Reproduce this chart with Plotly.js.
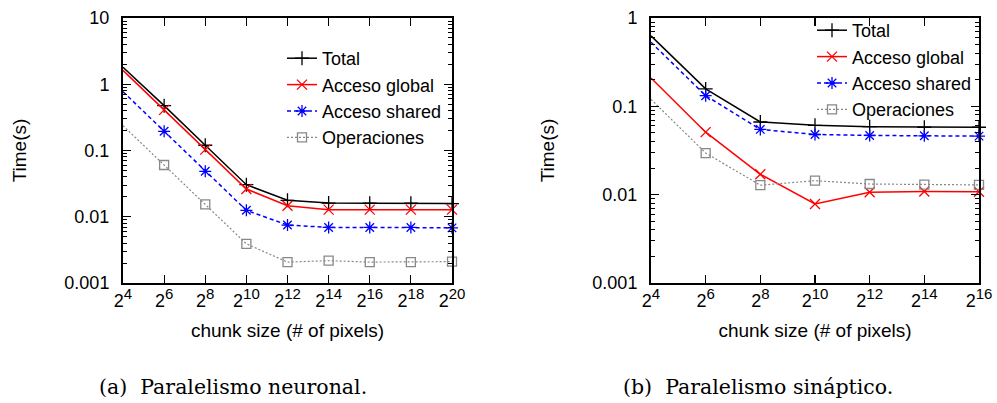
<!DOCTYPE html>
<html>
<head>
<meta charset="utf-8">
<script src="https://cdn.plot.ly/plotly-3.0.1.min.js"></script>
<style>
  html, body { margin: 0; padding: 0; background: #fff; }
  #chart { width: 997px; height: 403px; }
</style>
</head>
<body>
<div id="chart"></div>
<script>
// ---- Data: (a) Paralelismo neuronal ----
const expA = [4, 6, 8, 10, 12, 14, 16, 18, 20];
const totalA  = [1.8, 0.475, 0.12, 0.0305, 0.0177, 0.0161, 0.016, 0.016, 0.0158];
const globalA = [1.62, 0.41, 0.103, 0.0262, 0.0147, 0.0128, 0.0128, 0.0128, 0.0128];
const sharedA = [0.773, 0.195, 0.0485, 0.0125, 0.0075, 0.0069, 0.0069, 0.0069, 0.0068];
const operA   = [0.237, 0.0604, 0.0154, 0.0039, 0.00207, 0.00217, 0.00207, 0.00207, 0.0021];

// ---- Data: (b) Paralelismo sináptico ----
const expB = [4, 6, 8, 10, 12, 14, 16];
const totalB  = [0.627, 0.1575, 0.0665, 0.061, 0.0588, 0.058, 0.058];
const globalB = [0.209, 0.051, 0.017, 0.00784, 0.01067, 0.01086, 0.0108];
const sharedB = [0.531, 0.132, 0.0548, 0.048, 0.0468, 0.0464, 0.046];
const operB   = [0.12, 0.0296, 0.0128, 0.0144, 0.0132, 0.013, 0.0129];

const seriesNames = ["Total", "Acceso global", "Acceso shared", "Operaciones"];
const yTicksA = ["0.001", "0.01", "0.1", "1", "10"];
const yTicksB = ["0.001", "0.01", "0.1", "1"];
const xTitle = "chunk size (# of pixels)";
const yTitle = "Time(s)";
const captionA = "(a)  Paralelismo neuronal.";
const captionB = "(b)  Paralelismo sináptico.";

// ---- styles ----
const styles = [
  {color: "#000000", dash: "solid",   width: 1.5, symbol: "cross-thin-open", size: 10},
  {color: "#ff0000", dash: "solid",   width: 1.5, symbol: "x-thin-open", size: 10},
  {color: "#0000ff", dash: "4px,3px", width: 1.5, symbol: "asterisk-open", size: 10},
  {color: "#888888", dash: "2px,2px", width: 1.2, symbol: "square-open", size: 9}
];

const sizes = e => e.map(v => Math.pow(2, v));
function mk(xs, ys, i, xa, ya, leg) {
  const s = styles[i];
  return {
    x: sizes(xs), y: ys, name: seriesNames[i], type: "scatter", mode: "lines+markers",
    xaxis: xa, yaxis: ya, legend: leg, cliponaxis: false,
    line: {color: s.color, dash: s.dash, width: s.width},
    marker: {symbol: s.symbol, size: s.size, color: s.color, line: {color: s.color, width: 1.3}}
  };
}

const traces = [
  mk(expA, totalA, 0, "x", "y", "legend"),
  mk(expA, globalA, 1, "x", "y", "legend"),
  mk(expA, sharedA, 2, "x", "y", "legend"),
  mk(expA, operA, 3, "x", "y", "legend"),
  mk(expB, totalB, 0, "x2", "y2", "legend2"),
  mk(expB, globalB, 1, "x2", "y2", "legend2"),
  mk(expB, sharedB, 2, "x2", "y2", "legend2"),
  mk(expB, operB, 3, "x2", "y2", "legend2")
];

function minorVals(lo, hi) {
  const v = [];
  for (let d = lo; d < hi; d++) for (let k = 2; k <= 9; k++) v.push(k * Math.pow(10, d));
  return v;
}

const FAM = "Liberation Sans, Arial, sans-serif";
const font = {family: FAM, size: 19, color: "#000"};
const tickFont = {family: FAM, size: 18, color: "#000"};

function xAxis(exps, domain) {
  return {
    type: "log", domain: domain,
    range: [Math.log10(Math.pow(2, exps[0])), Math.log10(Math.pow(2, exps[exps.length - 1]))],
    tickmode: "array", tickvals: sizes(exps),
    ticktext: exps.map(e => "2<sup><span style=\"font-size:15px\">" + e + "</span></sup>"),
    ticks: "inside", ticklen: 8, tickwidth: 1.2, tickcolor: "#000",
    showline: true, linecolor: "#000", linewidth: 2, mirror: "allticks",
    showgrid: false, zeroline: false, tickfont: tickFont,
    title: {text: xTitle, font: font, standoff: 14}
  };
}
function yAxis(ticks, domain, anchor) {
  const lo = -3, hi = ticks.length - 4;
  return {
    type: "log", domain: domain, anchor: anchor, range: [lo, hi],
    tickmode: "array", tickvals: ticks.map(Number), ticktext: ticks,
    ticks: "inside", ticklen: 8, tickwidth: 1.2, tickcolor: "#000",
    minor: {tickmode: "array", tickvals: minorVals(lo, hi), ticks: "inside", ticklen: 4, tickwidth: 1, tickcolor: "#000", showgrid: false},
    showline: true, linecolor: "#000", linewidth: 2, mirror: "allticks",
    showgrid: false, zeroline: false, tickfont: tickFont, ticklabelstandoff: 8,
    title: {text: yTitle, font: font, standoff: 33}
  };
}

const yDom = [(403 - 283) / 403, (403 - 18) / 403];
const layout = {
  width: 997, height: 403,
  margin: {l: 0, r: 0, t: 0, b: 0},
  paper_bgcolor: "#fff", plot_bgcolor: "#fff",
  font: font,
  xaxis: Object.assign(xAxis(expA, [123 / 997, 452 / 997]), {anchor: "y"}),
  yaxis: yAxis(yTicksA, yDom, "x"),
  xaxis2: Object.assign(xAxis(expB, [651 / 997, 979 / 997]), {anchor: "y2"}),
  yaxis2: yAxis(yTicksB, yDom, "x2"),
  legend: {x: 447 / 997, xanchor: "right", y: 1 - 40 / 403, yanchor: "top",
           bgcolor: "rgba(0,0,0,0)", font: {family: FAM, size: 18}, tracegroupgap: 0},
  legend2: {x: 977 / 997, xanchor: "right", y: 1 - 12 / 403, yanchor: "top",
            bgcolor: "rgba(0,0,0,0)", font: {family: FAM, size: 18}, tracegroupgap: 0},
  annotations: [
    {text: captionA, xref: "paper", yref: "paper", x: 233 / 997, y: 16 / 403, xanchor: "center", yanchor: "middle",
     showarrow: false, font: {family: "DejaVu Serif, serif", size: 20.5, color: "#000"}},
    {text: captionB, xref: "paper", yref: "paper", x: 758 / 997, y: 16 / 403, xanchor: "center", yanchor: "middle",
     showarrow: false, font: {family: "DejaVu Serif, serif", size: 20.5, color: "#000"}}
  ],
  showlegend: true
};

Plotly.newPlot("chart", traces, layout, {displayModeBar: false, staticPlot: true});
</script>
</body>
</html>
